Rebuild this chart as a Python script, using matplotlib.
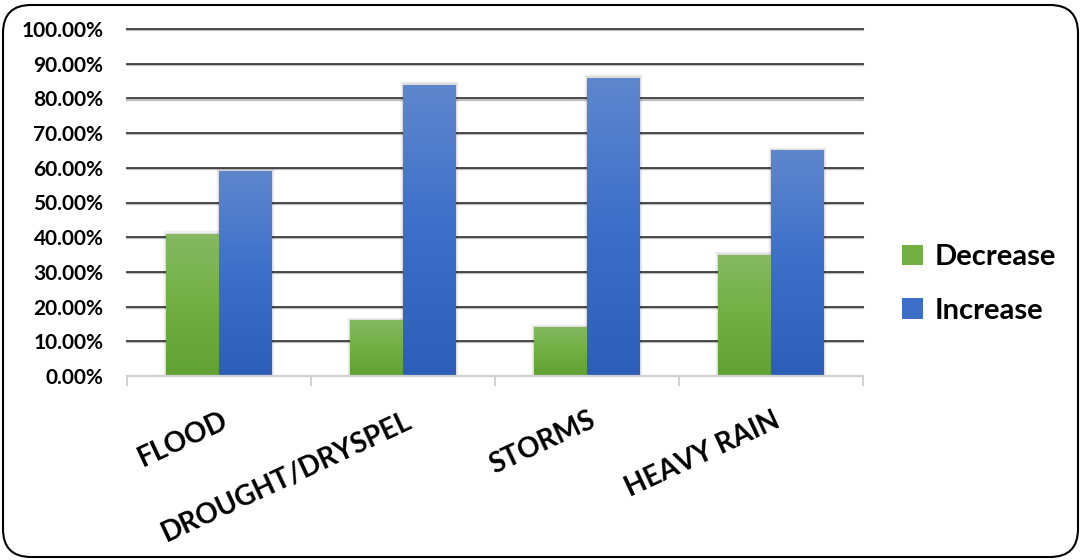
import numpy as np
import matplotlib
matplotlib.use("Agg")
import matplotlib.pyplot as plt
from matplotlib.patches import FancyBboxPatch, Rectangle
from matplotlib.colors import LinearSegmentedColormap
from matplotlib.ticker import FixedLocator, PercentFormatter
import matplotlib.transforms as mtransforms

# survey results: share of respondents reporting each change
categories = ["FLOOD", "DROUGHT/DRYSPEL", "STORMS", "HEAVY RAIN"]
decrease = [0.41, 0.16, 0.14, 0.35]
increase = [0.59, 0.84, 0.86, 0.65]
series_names = ["Decrease", "Increase"]

plt.rcParams['font.family'] = ['Lato', 'DejaVu Sans']
plt.rcParams['font.weight'] = 'bold'

green = LinearSegmentedColormap.from_list("g", ["#61a033", "#72b043", "#86b965"])
blue = LinearSegmentedColormap.from_list("b", ["#2d5eb8", "#3d6fc9", "#5f87cd"])

fig = plt.figure(figsize=(10.81, 5.60), dpi=100)
ax = fig.add_axes([127 / 1081, 1 - 376 / 560, (863 - 127) / 1081, 347 / 560])

x = np.arange(len(categories))
width = 0.288
grad = np.linspace(0, 1, 256).reshape(-1, 1)


def gradient_bars(xpos, heights, cmap, label):
    bars = ax.bar(xpos, heights, width, color=cmap(0.5), label=label, zorder=3,
                  edgecolor="none", linewidth=0)
    for b in bars:
        bx, by = b.get_x(), b.get_y()
        bw, bh = b.get_width(), b.get_height()
        # soft drop shadow
        for k, a in enumerate([0.07, 0.045, 0.025]):
            off = 0.005 * (k + 1)
            sh = Rectangle((bx - off, by), bw + 2 * off, bh + off * 0.7,
                           facecolor="black", alpha=a, edgecolor="none", zorder=2.5)
            ax.add_patch(sh)
        b.set_facecolor("none")
        im = ax.imshow(grad, cmap=cmap, aspect="auto", origin="lower",
                       extent=(bx - 0.01, bx + bw + 0.01, by, by + bh + 0.01),
                       zorder=3.2, interpolation="bilinear")
        im.set_clip_path(b)
    return bars


gradient_bars(x - width / 2, decrease, green, series_names[0])
gradient_bars(x + width / 2, increase, blue, series_names[1])

ax.set_xlim(-0.5, len(categories) - 0.5)
ax.set_ylim(0, 1.0)
ax.yaxis.set_major_locator(FixedLocator(np.arange(0, 1.01, 0.1)))
ax.yaxis.set_major_formatter(PercentFormatter(1.0, decimals=2))
ax.tick_params(axis="y", length=0, pad=17, labelsize=15)
for lbl in ax.get_yticklabels():
    lbl.set_fontweight("bold")

# gridlines with a faint shadow beneath
ytr = ax.get_yaxis_transform()
shadow_tr = ytr + mtransforms.ScaledTranslation(0, -1.2 / 100, fig.dpi_scale_trans)
for v in np.arange(0.1, 1.01, 0.1):
    ax.plot([0, 1], [v, v], color="#bfbfbf", lw=1.6, zorder=1, transform=shadow_tr,
            clip_on=False)
    ax.plot([0, 1], [v, v], color="#3c3c3c", lw=1.3, zorder=1.2, transform=ytr,
            clip_on=False)

for s in ["top", "right", "left"]:
    ax.spines[s].set_visible(False)
ax.spines["bottom"].set_color("#d0d0d0")
ax.spines["bottom"].set_linewidth(1.6)
ax.spines["bottom"].set_zorder(4)

ax.set_xticks(np.arange(-0.5, len(categories), 1.0))
ax.set_xticklabels([])
ax.tick_params(axis="x", length=7, width=1.4, color="#d0d0d0", direction="out")

tr = ax.get_xaxis_transform()
for xi, name in zip(x, categories):
    ax.text(xi + 0.01, -0.09, name, transform=tr, rotation=25, rotation_mode="anchor",
            ha="right", va="top", fontsize=20, fontweight="bold")

# legend
leg = ax.legend(loc="center left", bbox_to_anchor=(1.018, 0.265), frameon=False,
                handlelength=0.7, handleheight=0.7, handletextpad=0.4,
                labelspacing=0.95, prop={"weight": "bold", "size": 21})
leg.get_patches()[0].set_facecolor("#72b043")
leg.get_patches()[1].set_facecolor("#3d6fc9")

# rounded outer frame
frame = FancyBboxPatch((0.03, 0.03), 10.75, 5.52,
                       boxstyle="round,pad=0,rounding_size=0.28",
                       transform=fig.dpi_scale_trans, facecolor="none",
                       edgecolor="black", lw=1.5)
fig.patches.append(frame)

fig.savefig("out.png", dpi=100)
